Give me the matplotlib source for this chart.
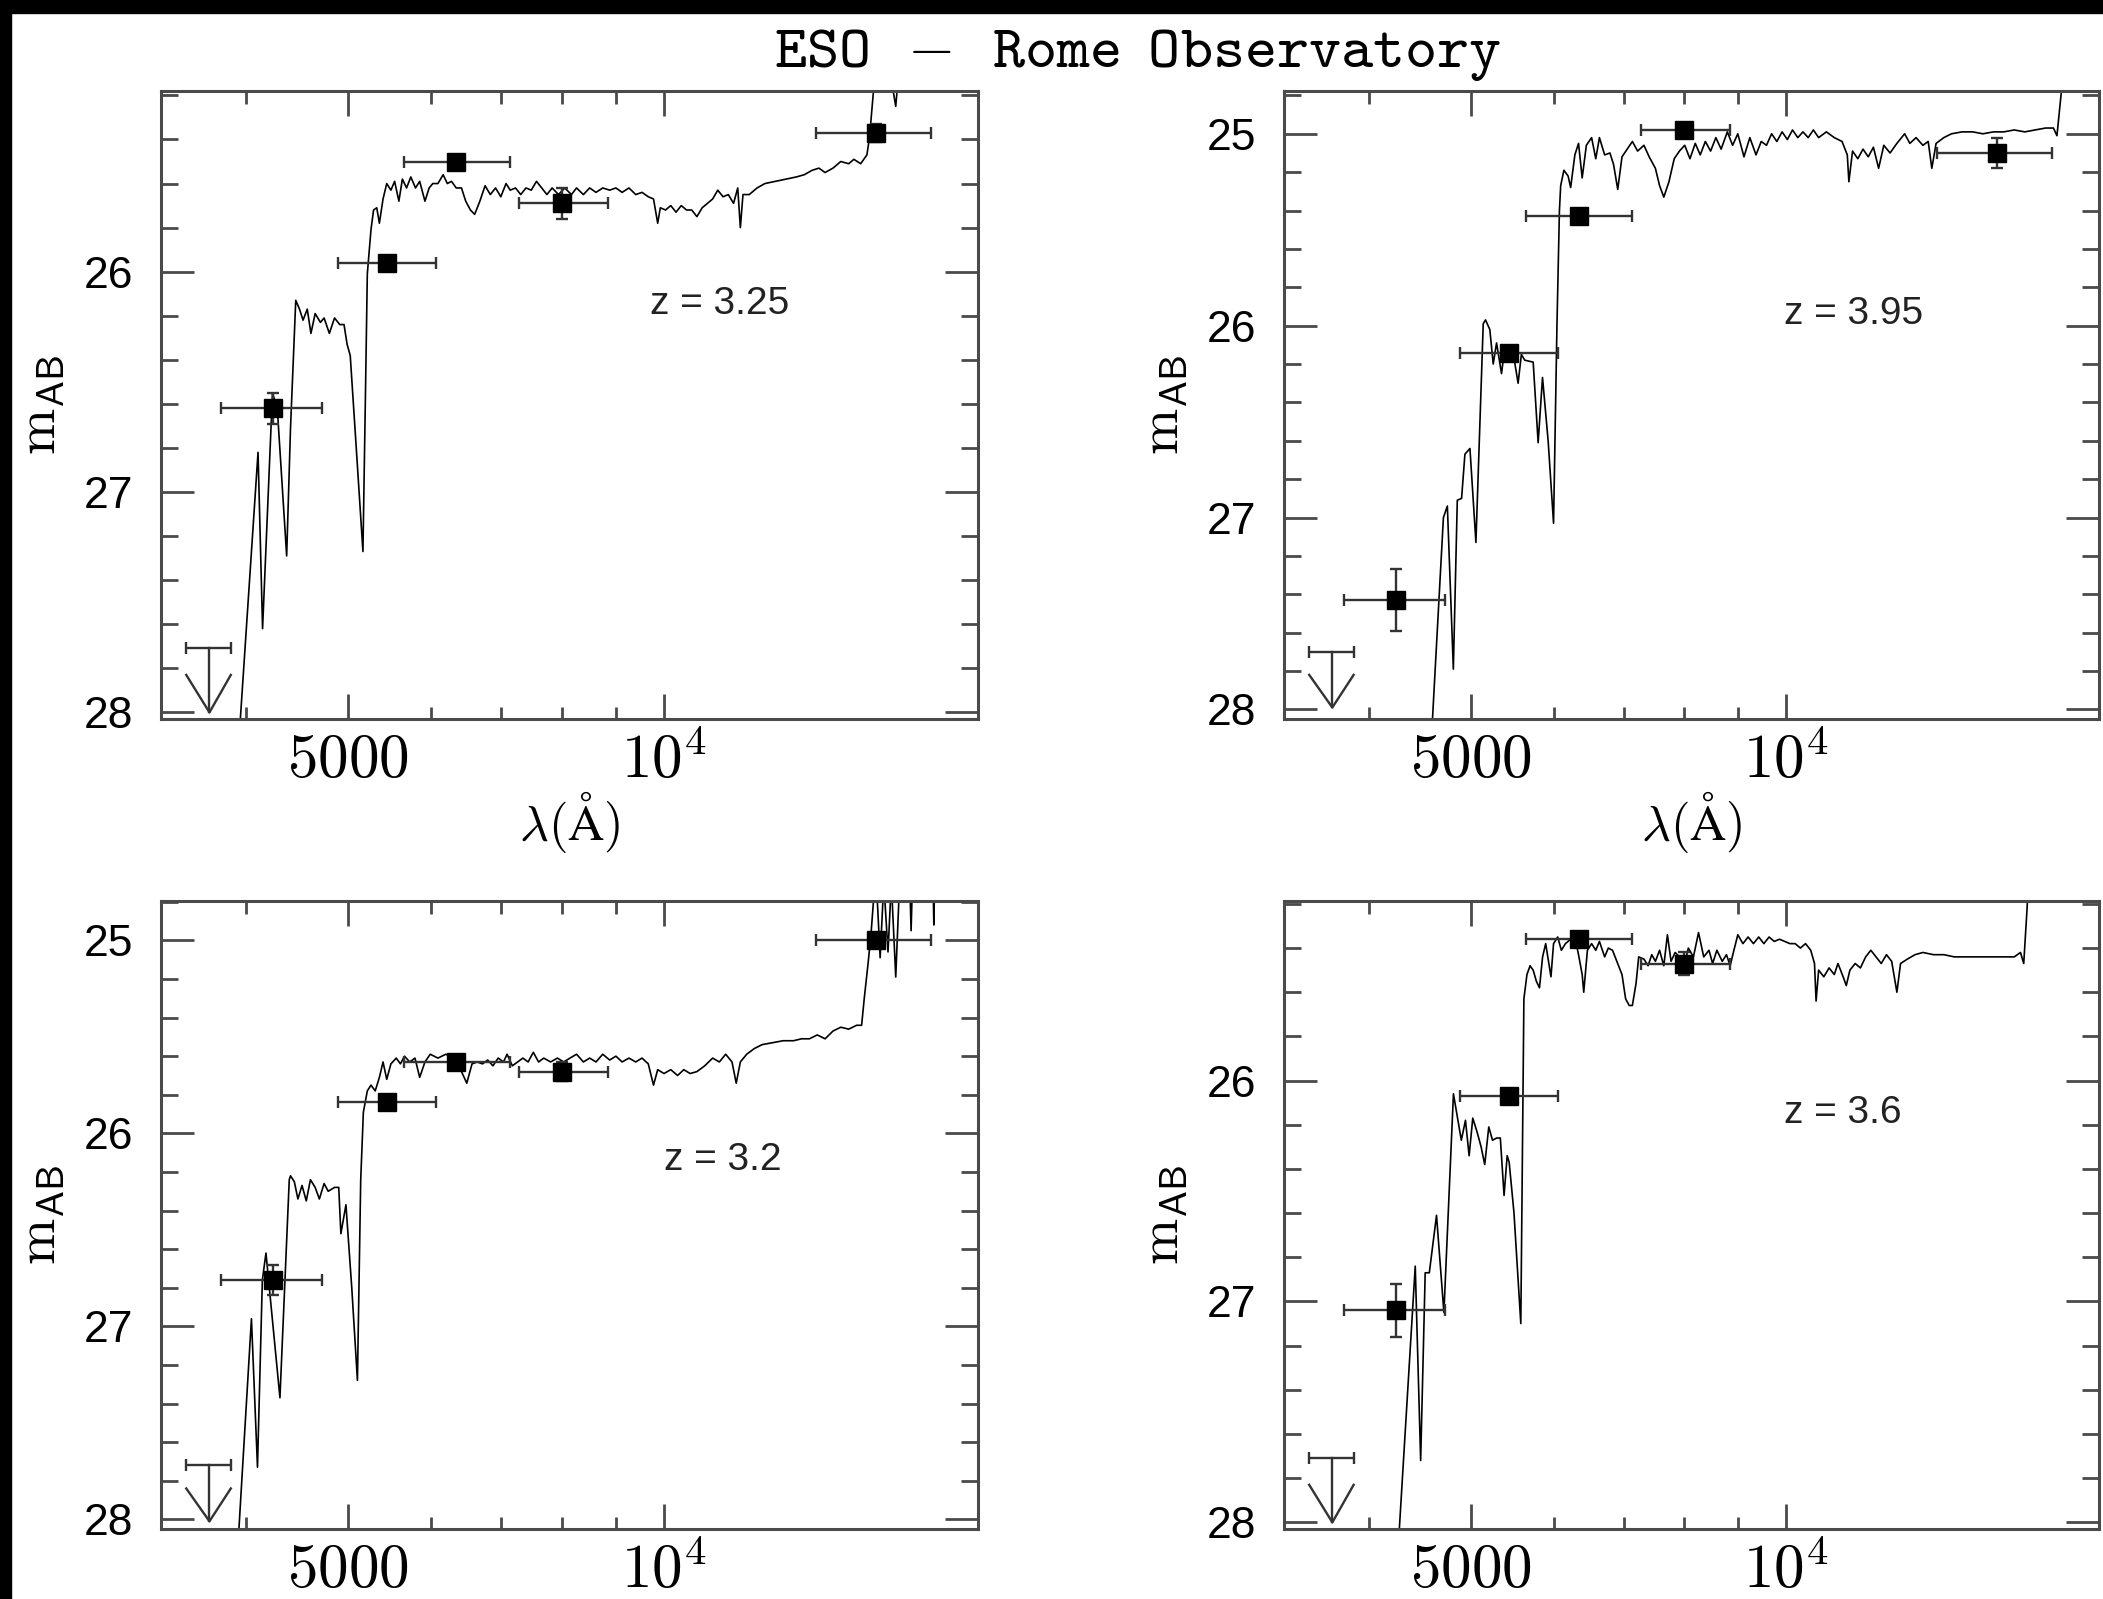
import numpy as np
import matplotlib
matplotlib.use("Agg")
import matplotlib.pyplot as plt
from matplotlib import font_manager
from matplotlib.patches import Rectangle
from matplotlib.ticker import FixedLocator, FixedFormatter, MultipleLocator, NullFormatter

plt.rcParams['mathtext.fontset'] = 'cm'
plt.rcParams['font.family'] = ['Liberation Sans', 'DejaVu Sans']

# photometric bands (centre, lower and upper edge, in Angstrom)
filt_wl = [4243, 5442, 6339, 8000, 15920]
filt_lo = [3782, 4886, 5652, 7277, 13950]
filt_hi = [4721, 6057, 7136, 8845, 17960]
# band with only an upper limit
lim_wl, lim_lo, lim_hi = 3688, 3505, 3865

# measured magnitudes per object (nan = not plotted)
mag_tl = [26.62, 25.96, 25.50, 25.69, 25.37]
err_tl = [0.07, 0.03, 0.03, 0.07, 0.04]
mag_tr = [27.43, 26.14, 25.43, 24.98, 25.10]
err_tr = [0.16, 0.03, 0.03, 0.03, 0.08]
mag_bl = [26.76, 25.84, 25.63, 25.68, 25.00]
err_bl = [0.08, 0.03, 0.03, 0.05, 0.03]
mag_br = [27.04, 26.07, 25.36, 25.47, np.nan]
err_br = [0.12, 0.03, 0.03, 0.05, np.nan]
lim_mags = [27.71, 27.70, 27.72, 27.71]
redshifts = ['3.25', '3.95', '3.2', '3.6']

# best fitting template spectra (wavelength, m_AB)
spec_tl = [(3900, 28.4), (4103, 26.82), (4144, 27.62), (4235, 26.55), (4280, 26.62), (4369, 27.29),
           (4406, 26.71), (4457, 26.13), (4494, 26.17), (4529, 26.22), (4571, 26.17), (4608, 26.28),
           (4651, 26.19), (4705, 26.23), (4743, 26.21), (4798, 26.28), (4853, 26.21), (4909, 26.24),
           (4955, 26.24), (4989, 26.33), (5023, 26.38), (5090, 26.8), (5165, 27.27), (5192, 26.6),
           (5215, 26.01), (5257, 25.81), (5287, 25.72), (5324, 25.71), (5355, 25.78), (5398, 25.67),
           (5442, 25.60), (5492, 25.63), (5537, 25.59), (5589, 25.68), (5632, 25.58), (5684, 25.62),
           (5737, 25.57), (5797, 25.62), (5850, 25.59), (5918, 25.68), (5973, 25.62), (6021, 25.60),
           (6089, 25.60), (6159, 25.56), (6216, 25.60), (6273, 25.59), (6339, 25.62), (6412, 25.62),
           (6472, 25.68), (6539, 25.72), (6600, 25.74), (6676, 25.68), (6753, 25.61), (6831, 25.65),
           (6910, 25.62), (6990, 25.66), (7071, 25.60), (7136, 25.63), (7219, 25.62), (7302, 25.65),
           (7387, 25.62), (7473, 25.63), (7559, 25.59), (7647, 25.62), (7734, 25.65), (7824, 25.62),
           (7933, 25.65), (8043, 25.62), (8162, 25.65), (8254, 25.62), (8379, 25.65), (8495, 25.62),
           (8614, 25.64), (8743, 25.62), (8876, 25.63), (8999, 25.62), (9122, 25.64), (9260, 25.62),
           (9399, 25.65), (9530, 25.64), (9661, 25.66), (9773, 25.67), (9863, 25.78), (9920, 25.71),
           (10035, 25.72), (10150, 25.70), (10268, 25.73), (10387, 25.70), (10506, 25.72), (10627, 25.72),
           (10750, 25.75), (10874, 25.71), (11000, 25.69), (11127, 25.67), (11253, 25.63), (11384, 25.66),
           (11516, 25.65), (11650, 25.69), (11757, 25.62), (11825, 25.80), (11893, 25.65), (12058, 25.65),
           (12267, 25.62), (12480, 25.60), (12770, 25.59), (13068, 25.58), (13372, 25.57), (13604, 25.56),
           (13840, 25.54), (14050, 25.53), (14242, 25.55), (14490, 25.53), (14740, 25.50), (15000, 25.51),
           (15170, 25.49), (15398, 25.51), (15610, 25.47), (15700, 25.39), (15830, 25.19), (15940, 25.0),
           (16300, 25.0), (16630, 25.25), (16800, 25.0)]

spec_tr = [(4550, 28.5), (4709, 27.00), (4750, 26.94), (4813, 27.79), (4855, 26.91), (4901, 26.90),
           (4937, 26.67), (4992, 26.64), (5058, 27.13), (5140, 25.99), (5166, 25.97), (5215, 26.02),
           (5254, 26.20), (5293, 26.09), (5351, 26.25), (5391, 26.11), (5489, 26.14), (5550, 26.30),
           (5590, 26.15), (5632, 26.18), (5737, 26.19), (5800, 26.61), (5856, 26.27), (5929, 26.60),
           (6000, 27.03), (6045, 26.0), (6078, 25.4), (6095, 25.27), (6138, 25.19), (6195, 25.22),
           (6230, 25.28), (6288, 25.11), (6339, 25.05), (6390, 25.23), (6449, 25.06), (6524, 25.02),
           (6584, 25.13), (6637, 25.02), (6714, 25.11), (6792, 25.10), (6847, 25.16), (6910, 25.29),
           (6975, 25.12), (7055, 25.08), (7136, 25.04), (7219, 25.09), (7320, 25.06), (7405, 25.12),
           (7507, 25.18), (7576, 25.27), (7647, 25.33), (7734, 25.25), (7824, 25.13), (7915, 25.09),
           (8007, 25.06), (8100, 25.13), (8195, 25.05), (8285, 25.11), (8379, 25.04), (8476, 25.09),
           (8575, 25.02), (8675, 25.08), (8794, 24.99), (8897, 25.06), (8999, 25.00), (9122, 25.12),
           (9240, 25.02), (9367, 25.11), (9475, 25.04), (9585, 25.06), (9694, 25.00), (9806, 25.04),
           (9920, 24.99), (10035, 25.03), (10150, 24.98), (10268, 25.02), (10387, 24.99), (10506, 25.02),
           (10627, 24.98), (10750, 25.02), (10935, 24.99), (11127, 25.02), (11318, 25.04), (11450, 25.11),
           (11490, 25.25), (11583, 25.09), (11718, 25.13), (11853, 25.08), (11990, 25.12), (12127, 25.07),
           (12267, 25.18), (12407, 25.06), (12580, 25.10), (12770, 25.05), (12990, 25.00), (13139, 25.05),
           (13320, 25.02), (13522, 25.06), (13680, 25.04), (13790, 25.18), (13920, 25.05), (14160, 25.02),
           (14400, 25.00), (14740, 24.99), (15090, 24.99), (15430, 25.00), (15790, 24.99), (16160, 24.99),
           (16530, 24.98), (16920, 24.99), (17310, 24.98), (17710, 24.97), (18020, 24.97), (18160, 25.01),
           (18330, 24.79), (18400, 24.6)]

spec_bl = [(3890, 28.5), (4044, 26.96), (4098, 27.73), (4142, 26.76), (4175, 26.62), (4305, 27.37),
           (4394, 26.24), (4406, 26.22), (4443, 26.25), (4478, 26.34), (4519, 26.27), (4561, 26.35),
           (4603, 26.24), (4651, 26.28), (4694, 26.34), (4743, 26.26), (4786, 26.30), (4853, 26.28),
           (4898, 26.28), (4921, 26.52), (4976, 26.37), (5040, 26.80), (5103, 27.28), (5140, 26.24),
           (5170, 25.89), (5215, 25.78), (5257, 25.75), (5306, 25.78), (5355, 25.71), (5398, 25.63),
           (5442, 25.72), (5492, 25.64), (5557, 25.61), (5608, 25.64), (5658, 25.60), (5723, 25.63),
           (5790, 25.61), (5850, 25.71), (5918, 25.63), (5987, 25.59), (6089, 25.61), (6195, 25.59),
           (6303, 25.61), (6412, 25.68), (6487, 25.74), (6562, 25.64), (6637, 25.63), (6714, 25.64),
           (6792, 25.62), (6870, 25.65), (6950, 25.61), (7031, 25.63), (7087, 25.59), (7169, 25.65),
           (7253, 25.63), (7337, 25.61), (7422, 25.63), (7507, 25.58), (7594, 25.63), (7681, 25.61),
           (7797, 25.63), (7915, 25.61), (8025, 25.63), (8136, 25.61), (8254, 25.59), (8379, 25.63),
           (8495, 25.61), (8614, 25.63), (8743, 25.59), (8876, 25.62), (8999, 25.60), (9122, 25.63),
           (9260, 25.61), (9399, 25.63), (9530, 25.61), (9661, 25.64), (9773, 25.75), (9863, 25.67),
           (10000, 25.69), (10150, 25.67), (10303, 25.70), (10445, 25.67), (10590, 25.69), (10750, 25.68),
           (10935, 25.65), (11127, 25.61), (11292, 25.63), (11450, 25.59), (11610, 25.63), (11718, 25.74),
           (11825, 25.63), (11990, 25.59), (12197, 25.56), (12407, 25.54), (12697, 25.53), (12990, 25.52),
           (13290, 25.52), (13522, 25.51), (13760, 25.51), (14000, 25.49), (14242, 25.51), (14490, 25.47),
           (14740, 25.45), (15000, 25.46), (15260, 25.44), (15430, 25.44), (15520, 25.30), (15650, 25.12),
           (15750, 24.97), (15830, 24.81), (15940, 24.70), (16070, 25.09), (16200, 24.70), (16350, 25.06),
           (16470, 24.70), (16630, 25.19), (16770, 24.70), (17150, 24.70), (17200, 24.95), (17250, 24.70),
           (18050, 24.70), (18080, 24.92), (18110, 24.70)]

spec_br = [(4215, 28.5), (4426, 26.84), (4479, 27.72), (4524, 26.87), (4565, 26.87), (4638, 26.61),
           (4714, 27.05), (4814, 26.06), (4898, 26.27), (4943, 26.18), (4983, 26.34), (5023, 26.17),
           (5069, 26.23), (5116, 26.30), (5157, 26.38), (5203, 26.21), (5246, 26.27), (5294, 26.26),
           (5337, 26.26), (5381, 26.52), (5418, 26.34), (5442, 26.37), (5500, 26.60), (5583, 27.10),
           (5621, 25.63), (5659, 25.52), (5698, 25.48), (5737, 25.50), (5777, 25.55), (5817, 25.58),
           (5857, 25.44), (5897, 25.38), (5938, 25.47), (5966, 25.53), (6000, 25.38), (6055, 25.35),
           (6104, 25.41), (6159, 25.38), (6230, 25.36), (6288, 25.35), (6339, 25.43), (6390, 25.52),
           (6412, 25.60), (6464, 25.41), (6524, 25.38), (6584, 25.41), (6637, 25.37), (6714, 25.44),
           (6768, 25.40), (6831, 25.41), (6910, 25.47), (6975, 25.52), (7031, 25.63), (7087, 25.66),
           (7136, 25.66), (7194, 25.56), (7236, 25.44), (7320, 25.45), (7387, 25.48), (7447, 25.43),
           (7507, 25.46), (7576, 25.41), (7647, 25.48), (7708, 25.34), (7770, 25.46), (7841, 25.42),
           (7915, 25.44), (8007, 25.47), (8071, 25.40), (8162, 25.44), (8254, 25.33), (8349, 25.44),
           (8446, 25.41), (8514, 25.47), (8594, 25.41), (8696, 25.46), (8777, 25.43), (8849, 25.48),
           (8922, 25.41), (8999, 25.34), (9101, 25.38), (9205, 25.35), (9314, 25.38), (9422, 25.35),
           (9530, 25.38), (9640, 25.35), (9750, 25.37), (9863, 25.36), (9977, 25.37), (10092, 25.38),
           (10209, 25.38), (10327, 25.40), (10445, 25.38), (10565, 25.41), (10653, 25.47), (10690, 25.64),
           (10750, 25.50), (10874, 25.53), (11000, 25.49), (11127, 25.52), (11217, 25.47), (11346, 25.53),
           (11424, 25.57), (11516, 25.50), (11650, 25.47), (11785, 25.49), (11922, 25.44), (12058, 25.41),
           (12197, 25.44), (12338, 25.47), (12480, 25.43), (12624, 25.46), (12770, 25.60), (12873, 25.47),
           (13068, 25.45), (13290, 25.43), (13522, 25.42), (13840, 25.43), (14160, 25.43), (14490, 25.44),
           (14740, 25.44), (15090, 25.44), (15430, 25.44), (15790, 25.44), (16160, 25.44), (16530, 25.44),
           (16760, 25.42), (16880, 25.47), (17000, 25.23), (17100, 25.0)]

# sans font for tick labels, narrow if we have it
names = {f.name for f in font_manager.fontManager.ttflist}
sans = 'Liberation Sans Narrow' if 'Liberation Sans Narrow' in names else 'Liberation Sans'

W, H = 2103, 1599
fig = plt.figure(figsize=(W / 100, H / 100), dpi=100)

frame_col = '#4a4a4a'
ARROW_LEN = 0.29   # length of upper-limit arrow (mag)
HEAD = 0.17        # depth of the arrow head (mag)

# left, right, top, bottom of each panel in pixels
boxes = [(161, 978, 91, 719), (1284, 2099, 91, 719), (161, 978, 901, 1529), (1284, 2099, 901, 1529)]
ylims = [(28.03, 25.18), (28.05, 24.777), (28.05, 24.796), (28.03, 25.187)]
zpos = [(0.599, 0.661), (0.613, 0.645), (0.616, 0.588), (0.613, 0.662)]
specs = [spec_tl, spec_tr, spec_bl, spec_br]
mags = [mag_tl, mag_tr, mag_bl, mag_br]
errs = [err_tl, err_tr, err_bl, err_br]

fw = np.array(filt_wl, float)
xerr = [fw - np.array(filt_lo), np.array(filt_hi) - fw]

for i in range(4):
    l, r, t, b = boxes[i]
    ax = fig.add_axes([l / W, 1 - b / H, (r - l) / W, (b - t) / H])
    wl, m = np.array(specs[i]).T
    ax.plot(wl, m, color='k', lw=1.2)

    ax.errorbar(fw, mags[i], yerr=errs[i], xerr=xerr, fmt='s', color='k', ms=13,
                ecolor='#333333', elinewidth=1.7, capsize=4.5, capthick=1.7)

    # upper limit: bar + arrow
    lm = lim_mags[i]
    ax.errorbar([lim_wl], [lm], xerr=[[lim_wl - lim_lo], [lim_hi - lim_wl]], fmt='none',
                ecolor='#333333', elinewidth=1.7, capsize=4.5, capthick=1.7)
    ax.plot([lim_wl, lim_wl], [lm, lm + ARROW_LEN], color='#333333', lw=1.7)
    ax.plot([lim_lo, lim_wl, lim_hi], [lm + ARROW_LEN - HEAD, lm + ARROW_LEN, lm + ARROW_LEN - HEAD],
            color='#333333', lw=1.7)

    ax.set_xscale('log')
    ax.set_xlim(3316, 19920)
    ax.set_ylim(*ylims[i])
    ax.xaxis.set_major_locator(FixedLocator([5000, 10000]))
    ax.xaxis.set_major_formatter(FixedFormatter([r'$5000$', r'$10^4$']))
    ax.xaxis.set_minor_locator(FixedLocator([4000, 6000, 7000, 8000, 9000]))
    ax.xaxis.set_minor_formatter(NullFormatter())
    ax.yaxis.set_major_locator(MultipleLocator(1))
    ax.yaxis.set_minor_locator(MultipleLocator(0.2))

    for s in ax.spines.values():
        s.set_color(frame_col)
        s.set_linewidth(2.2)
    ax.tick_params(which='both', direction='in', top=True, right=True, color=frame_col, width=2.0)
    ax.tick_params(axis='x', which='major', length=18, labelsize=44, pad=10)
    ax.tick_params(axis='x', which='minor', length=9)
    ax.tick_params(axis='y', which='major', length=24, labelsize=32, pad=20)
    ax.tick_params(axis='y', which='minor', length=12)
    for lab in ax.get_yticklabels():
        lab.set_family(sans)

    ax.set_ylabel(r'$\mathrm{m}_{\mathsf{AB}}$', fontsize=40, labelpad=12)
    if i < 2:
        ax.set_xlabel(r'$\lambda(\mathrm{\AA})$', fontsize=36, labelpad=-1)

    ax.text(zpos[i][0], zpos[i][1], 'z = ' + redshifts[i], transform=ax.transAxes,
            fontsize=28, family=sans, ha='left', va='center', color='#222222')

fig.text(0.541, 0.966, r'$\mathtt{ESO\enspace-\enspace Rome\enspace Observatory}$',
         ha='center', va='center', fontsize=44)

# black scan border on top and left
fig.add_artist(Rectangle((0, 1 - 13 / H), 1, 13 / H, transform=fig.transFigure, color='k', zorder=10))
fig.add_artist(Rectangle((0, 0), 11 / W, 1, transform=fig.transFigure, color='k', zorder=10))

fig.savefig('out.png', dpi=100)
